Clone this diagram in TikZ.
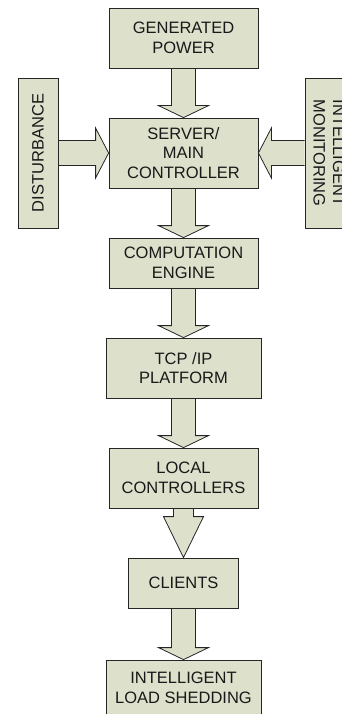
\documentclass[tikz,border=0pt]{standalone}
\usepackage{fontspec}
\setmainfont{Liberation Sans}
\usetikzlibrary{calc,backgrounds}

\definecolor{boxfill}{RGB}{221,225,204}
\definecolor{boxline}{RGB}{38,38,38}

% block arrow downwards: from, to, shaft half width, head half width, head length
\newcommand{\blkdown}[5]{%
  \draw[blk] ($(#1.south)+(-#3,0)$) -- ($(#2.north)+(-#3,#5)$) -- ($(#2.north)+(-#4,#5)$)
     -- (#2.north) -- ($(#2.north)+(#4,#5)$) -- ($(#2.north)+(#3,#5)$) -- ($(#1.south)+(#3,0)$);}
% block arrow sideways: from, tip, shaft half width, head half width, head length (signed)
\newcommand{\blkside}[5]{%
  \draw[blk] ($(#1)+(0,#3)$) -- ($(#2)+(#5,#3)$) -- ($(#2)+(#5,#4)$)
     -- (#2) -- ($(#2)+(#5,-#4)$) -- ($(#2)+(#5,-#3)$) -- ($(#1)+(0,-#3)$);}

\begin{document}
\begin{tikzpicture}[
  x=1pt, y=1pt,
  box/.style={draw=boxline, line width=0.8pt, fill=boxfill, inner sep=0pt,
              align=center, text=black!90,
              font=\fontsize{16.5}{19.5}\selectfont},
  blk/.style={draw=boxline, line width=0.8pt, fill=boxfill, line join=miter}
]

\useasboundingbox (0,0) rectangle (342,-714);
\clip (0,0) rectangle (342,-714);

% --- column x and box widths
\def\xM{183.5}
\def\wN{149}
\def\wW{155}

% --- main column
\node[box, minimum width=\wN, minimum height=60] (gen) at (\xM,-38) {GENERATED\\POWER};
\node[box, minimum width=\wN, minimum height=70] (srv) at (\xM,-153) {SERVER/\\MAIN\\CONTROLLER};
\node[box, minimum width=\wN, minimum height=50] (comp) at (\xM,-263) {COMPUTATION\\ENGINE};
\node[box, minimum width=\wW, minimum height=60] (tcp) at (\xM,-368) {TCP /IP\\PLATFORM};
\node[box, minimum width=\wN, minimum height=60] (local) at (\xM,-478) {LOCAL\\CONTROLLERS};
\node[box, minimum width=110, minimum height=50] (clients) at (\xM,-583) {CLIENTS};
\node[box, minimum width=\wW, minimum height=56] (shed) at (\xM,-688) {INTELLIGENT\\LOAD SHEDDING};

% --- side inputs (rotated, so .south faces the server)
\node[box, rotate=90, minimum width=150, minimum height=40] (dist) at (38,-153) {DISTURBANCE};
\node[box, rotate=-90, minimum width=150, minimum height=48] (mon) at (329,-153) {INTELLIGENT\\MONITORING};

% --- block arrows
\begin{scope}[on background layer]
\blkdown{gen}{srv}{12}{25}{12}
\blkdown{srv}{comp}{12}{25}{12}
\blkdown{comp}{tcp}{12}{25}{12}
\blkdown{tcp}{local}{12}{25}{12}
\blkdown{local}{clients}{10}{20}{41}
\blkdown{clients}{shed}{12}{25}{12}
\blkside{dist.south}{srv.west}{12.5}{25}{-13}
\blkside{mon.south}{srv.east}{12.5}{25}{13}
\end{scope}

\end{tikzpicture}
\end{document}
